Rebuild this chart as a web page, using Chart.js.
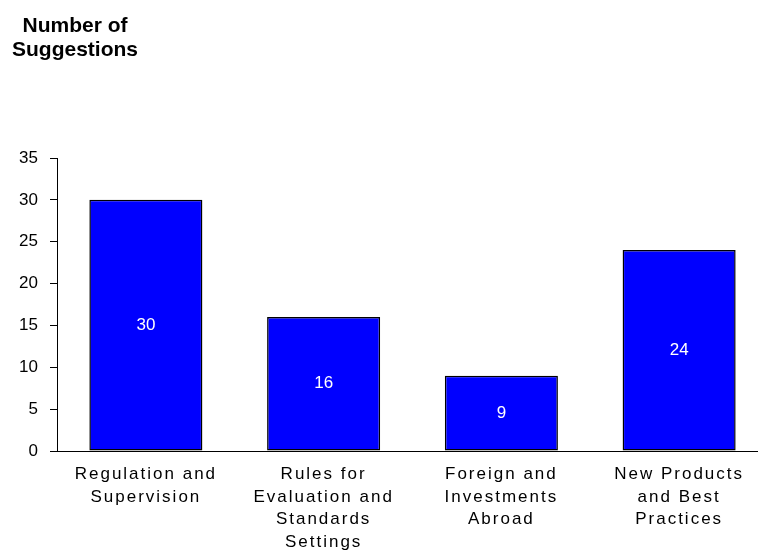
<!DOCTYPE html>
<html>
<head>
<meta charset="utf-8">
<script src="https://cdn.jsdelivr.net/npm/chart.js@4.4.1/dist/chart.umd.min.js"></script>
<style>
  html, body { margin: 0; padding: 0; background: #fff; overflow: hidden; }
  #wrap { position: relative; width: 768px; height: 556px; }
  #title {
    position: absolute; left: 0; top: 13px; width: 150px;
    text-align: center; font: bold 21px "Liberation Sans", Arial, sans-serif;
    line-height: 23.5px; color: #000;
  }
  canvas { display: block; }
</style>
</head>
<body>
<div id="wrap">
  <div id="title">Number of<br>Suggestions</div>
  <canvas id="chart" width="768" height="556"></canvas>
</div>
<script>
// Suggestion counts by topic
const categories = [
  ["Regulation and", "Supervision"],
  ["Rules for", "Evaluation and", "Standards", "Settings"],
  ["Foreign and", "Investments", "Abroad"],
  ["New Products", "and Best", "Practices"]
];
const suggestions = [30, 16, 9, 24];
const yMin = 0, yMax = 35, yStep = 5;

const FONT = '"Liberation Sans", Arial, sans-serif';
const CATEGORY_LETTER_SPACING = '2px';

// Category axis whose labels are drawn letter-spaced
class SpacedCategoryScale extends Chart.CategoryScale {
  drawLabels(area) {
    const ctx = this.ctx;
    ctx.save();
    ctx.letterSpacing = CATEGORY_LETTER_SPACING;
    super.drawLabels(area);
    ctx.restore();
  }
}
SpacedCategoryScale.id = 'spacedCategory';
SpacedCategoryScale.defaults = Chart.CategoryScale.defaults;
Chart.register(SpacedCategoryScale);

// Value written in the middle of each bar
const barValueLabels = {
  id: 'barValueLabels',
  afterDatasetsDraw(chart) {
    const ctx = chart.ctx;
    const meta = chart.getDatasetMeta(0);
    ctx.save();
    ctx.fillStyle = '#ffffff';
    ctx.font = '17px ' + FONT;
    ctx.textAlign = 'center';
    ctx.textBaseline = 'middle';
    meta.data.forEach((bar, i) => {
      const v = chart.data.datasets[0].data[i];
      ctx.fillText(String(v), bar.x, (bar.y + bar.base) / 2);
    });
    ctx.restore();
  }
};

new Chart(document.getElementById('chart'), {
  type: 'bar',
  data: {
    labels: categories,
    datasets: [{
      data: suggestions,
      backgroundColor: '#0000ff',
      borderColor: '#000000',
      borderWidth: 1.5,
      borderSkipped: false,
      barPercentage: 0.636,
      categoryPercentage: 1.0
    }]
  },
  options: {
    responsive: false,
    animation: false,
    devicePixelRatio: 1,
    layout: { padding: { top: 158, right: 0, bottom: 0, left: 0 } },
    plugins: {
      legend: { display: false },
      tooltip: { enabled: false }
    },
    scales: {
      x: {
        type: 'spacedCategory',
        grid: { display: false, drawTicks: false },
        border: { display: true, color: '#000', width: 1 },
        ticks: {
          color: '#000',
          padding: 12,
          maxRotation: 0,
          autoSkip: false,
          font: { family: FONT, size: 17, lineHeight: 1.335 }
        },
        afterFit(scale) { scale.height = 105; }
      },
      y: {
        min: yMin,
        max: yMax,
        grid: {
          display: true,
          drawOnChartArea: false,
          drawTicks: true,
          tickLength: 7,
          color: '#000'
        },
        border: { display: true, color: '#000', width: 1 },
        ticks: {
          stepSize: yStep,
          color: '#000',
          padding: 12,
          font: { family: FONT, size: 17 }
        },
        afterFit(scale) { scale.width = 57; }
      }
    }
  },
  plugins: [barValueLabels]
});
</script>
</body>
</html>
